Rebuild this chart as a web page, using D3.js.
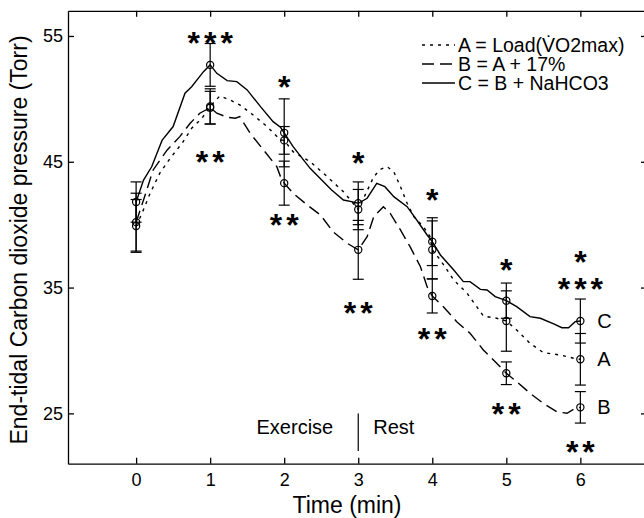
<!DOCTYPE html>
<html>
<head>
<meta charset="utf-8">
<script src="https://cdn.jsdelivr.net/npm/d3@7"></script>
<style>
  body { margin: 0; background: #fff; }
  svg { display: block; font-family: "Liberation Sans", Arial, sans-serif; }
</style>
</head>
<body>
<div id="chart"></div>
<script>
// traces (time in min, PETCO2 in Torr)
const timeC = [0, 0.10, 0.21, 0.35, 0.50, 0.66, 0.75, 0.91, 1, 1.09, 1.23, 1.36, 1.50, 1.68, 1.85, 1.95, 2,
  2.12, 2.35, 2.64, 2.80, 2.91, 3, 3.12, 3.25, 3.36, 3.48, 3.66, 3.79, 3.93, 4,
  4.11, 4.29, 4.42, 4.51, 4.65, 4.74, 4.85, 5, 5.14, 5.32, 5.46, 5.64, 5.75, 5.84, 5.93, 6];
const curveC = [41.8, 43.55, 44.6, 46.7, 47.8, 50.45, 50.97, 52.16, 52.7, 52.03, 51.45, 51.37, 50.71, 49.38, 48.19, 47.74, 47.3,
  46.2, 44.48, 42.76, 41.96, 41.83, 41.7, 42.1, 43.29, 43.02, 42.23, 41.43, 40.37, 39.18, 38.65,
  37.59, 36.4, 35.47, 35.47, 34.86, 34.81, 34.28, 33.96, 33.48, 32.69, 32.56, 32.11, 31.81, 31.81, 32.29, 32.34];

const timeA = [0, 0.08, 0.19, 0.32, 0.46, 0.62, 0.75, 0.89, 1, 1.13, 1.27, 1.40, 1.58, 1.77, 1.95, 2,
  2.12, 2.35, 2.58, 2.80, 3, 3.21, 3.30, 3.39, 3.48, 3.57, 3.66, 3.75, 3.88, 3.97, 4,
  4.11, 4.29, 4.47, 4.69, 4.87, 5, 5.14, 5.32, 5.50, 5.73, 5.91, 6];
const curveA = [39.9, 40.91, 42.5, 44.09, 45.28, 46.47, 47.66, 48.46, 49.4, 50.23, 49.91, 49.52, 48.72, 47.79, 46.73, 46.7,
  45.8, 45.01, 43.82, 42.62, 41.2, 43.82, 44.4, 44.61, 44.21, 43.02, 41.7, 40.64, 39.84, 39.05, 38.0,
  37.19, 35.6, 34.55, 32.74, 32.56, 32.34, 31.63, 30.57, 29.83, 29.64, 29.38, 29.3];

const timeB = [0, 0.10, 0.23, 0.42, 0.59, 0.73, 0.86, 1, 1.09, 1.23, 1.34, 1.40, 1.54, 1.72, 1.90, 1.95, 2,
  2.12, 2.31, 2.49, 2.66, 2.85, 3, 3.12, 3.21, 3.34, 3.43, 3.57, 3.70, 3.84, 3.93, 4,
  4.15, 4.33, 4.51, 4.69, 4.87, 5, 5.14, 5.32, 5.50, 5.68, 5.82, 5.91, 6];
const curveB = [40.2, 41.96, 44.35, 45.94, 47.0, 48.06, 48.86, 49.3, 48.86, 48.54, 48.46, 48.59, 47.27, 45.94, 44.61, 43.82, 43.3,
  42.5, 41.57, 40.77, 39.44, 38.52, 38.0, 39.05, 40.64, 41.43, 40.91, 39.58, 38.25, 36.66, 35.07, 34.33,
  33.48, 32.29, 31.37, 30.04, 28.98, 28.19, 27.52, 26.6, 25.8, 25.13, 25.01, 25.33, 25.48];

// means and SE at each whole minute
const markerTimes = [0, 1, 2, 3, 4, 5, 6];
const meanA = [39.9, 49.4, 46.7, 41.2, 38.0, 32.34, 29.3];
const errA = [2.1, 1.4, 1.1, 1.6, 2.3, 2.4, 2.05];
const meanB = [40.2, 49.3, 43.3, 38.0, 34.33, 28.19, 25.48];
const errB = [2.3, 1.3, 1.75, 2.34, 1.35, 0.9, 1.25];
const meanC = [41.8, 52.7, 47.3, 41.7, 38.65, 33.96, 32.34];
const errC = [1.6, 1.7, 2.7, 1.7, 1.9, 1.4, 1.75];

// significance marks
const starTimes = [1, 1, 2, 2, 3, 3, 4, 4, 5, 5, 6, 6, 6];
const starValues = [55.0, 45.5, 51.5, 40.5, 45.45, 33.55, 42.5, 31.45, 36.95, 25.5, 37.6, 35.45, 22.5];
const starLabels = ['***', '**', '*', '**', '*', '**', '*', '**', '*', '**', '*', '***', '**'];

const xTicks = [0, 1, 2, 3, 4, 5, 6];
const yTicks = [25, 35, 45, 55];
const legendLabels = ['A = Load(V\u0307O2max)', 'B = A + 17%', 'C = B + NaHCO3'];
const endLabels = ['C', 'A', 'B'];

const width = 644, height = 518;
const svg = d3.select('#chart').append('svg').attr('width', width).attr('height', height);

const x = d3.scaleLinear().domain([-0.92, 6.9]).range([68, 647]);
const y = d3.scaleLinear().domain([21, 57]).range([463.7, 10.8]);

// axes, ticks pointing in
const styleAxis = g => {
  g.selectAll('path, line').attr('stroke', '#000').attr('stroke-width', 1.3);
  g.selectAll('text').attr('fill', '#000').style('font-size', '18px').style('font-family', '"Liberation Sans", Arial, sans-serif');
};
svg.append('g').attr('transform', `translate(0,${y.range()[0]})`)
  .call(d3.axisBottom(x).tickValues(xTicks).tickSize(-6).tickSizeOuter(0).tickPadding(10).tickFormat(d3.format('d')))
  .call(styleAxis);
svg.append('g').attr('transform', `translate(0,${y.range()[1]})`)
  .call(d3.axisTop(x).tickValues(xTicks).tickSize(-6).tickSizeOuter(0).tickFormat(''))
  .call(styleAxis);
svg.append('g').attr('transform', `translate(${x.range()[0]},0)`)
  .call(d3.axisLeft(y).tickValues(yTicks).tickSize(-6).tickSizeOuter(0).tickPadding(5))
  .call(styleAxis);
svg.append('g').attr('transform', `translate(${x.range()[1]},0)`)
  .call(d3.axisRight(y).tickValues(yTicks).tickSize(-6).tickSizeOuter(0).tickFormat(''))
  .call(styleAxis);

// axis titles
svg.append('text').attr('x', 347).attr('y', 513).attr('text-anchor', 'middle')
  .style('font-size', '23px').text('Time (min)');
svg.append('text').attr('transform', 'translate(27,240) rotate(-90)').attr('text-anchor', 'middle')
  .style('font-size', '23px').text('End-tidal Carbon dioxide pressure (Torr)');

// traces
const dashes = { A: '3,5', B: '12,6', C: null };
const series = [
  { key: 'A', t: timeA, v: curveA, mean: meanA, err: errA },
  { key: 'B', t: timeB, v: curveB, mean: meanB, err: errB },
  { key: 'C', t: timeC, v: curveC, mean: meanC, err: errC }
];
const line = d3.line().x(d => x(d[0])).y(d => y(d[1]));

series.forEach(s => {
  const pts = s.t.map((t, i) => [t, s.v[i]]);
  svg.append('path').datum(pts).attr('d', line)
    .attr('fill', 'none').attr('stroke', '#000').attr('stroke-width', 1.4)
    .attr('stroke-dasharray', dashes[s.key]);

  const bars = markerTimes.map((t, i) => ({ t: t, m: s.mean[i], e: s.err[i] }));
  const g = svg.append('g').attr('stroke', '#000').attr('stroke-width', 1.2);
  g.selectAll('.v').data(bars).enter().append('line')
    .attr('x1', d => x(d.t)).attr('x2', d => x(d.t))
    .attr('y1', d => y(d.m + d.e)).attr('y2', d => y(d.m - d.e));
  g.selectAll('.top').data(bars).enter().append('line')
    .attr('x1', d => x(d.t) - 5.5).attr('x2', d => x(d.t) + 5.5)
    .attr('y1', d => y(d.m + d.e)).attr('y2', d => y(d.m + d.e));
  g.selectAll('.bot').data(bars).enter().append('line')
    .attr('x1', d => x(d.t) - 5.5).attr('x2', d => x(d.t) + 5.5)
    .attr('y1', d => y(d.m - d.e)).attr('y2', d => y(d.m - d.e));
  g.selectAll('circle').data(bars).enter().append('circle')
    .attr('cx', d => x(d.t)).attr('cy', d => y(d.m)).attr('r', 3.6)
    .attr('fill', 'none');
});

// stars
svg.selectAll('.star').data(starTimes).enter().append('text')
  .attr('x', (d, i) => x(d) + 2)
  .attr('y', (d, i) => y(starValues[i]) + 18)
  .attr('text-anchor', 'middle')
  .style('font-size', '32px').style('font-weight', 'bold').style('letter-spacing', '4px')
  .text((d, i) => starLabels[i]);

// end labels
const endVals = [meanC[6], meanA[6], meanB[6]];
svg.selectAll('.endlab').data(endLabels).enter().append('text')
  .attr('x', x(6) + 17).attr('y', (d, i) => y(endVals[i]) + 7)
  .style('font-size', '20px').text(d => d);

// exercise / rest
svg.append('line').attr('x1', x(3)).attr('x2', x(3)).attr('y1', y(25)).attr('y2', y(22))
  .attr('stroke', '#000').attr('stroke-width', 1.2);
svg.append('text').attr('x', x(3) - 25).attr('y', y(23.35)).attr('text-anchor', 'end')
  .style('font-size', '20px').text('Exercise');
svg.append('text').attr('x', x(3) + 15).attr('y', y(23.35))
  .style('font-size', '20px').text('Rest');

// legend
const legend = svg.append('g');
const legendDash = ['3,5', '12,6', null];
legendLabels.forEach((lab, i) => {
  const yy = 52 + i * 19;
  legend.append('line').attr('x1', 422).attr('x2', 455).attr('y1', yy - 7).attr('y2', yy - 7)
    .attr('stroke', '#000').attr('stroke-width', 1.4).attr('stroke-dasharray', legendDash[i]);
  legend.append('text').attr('x', 458).attr('y', yy).style('font-size', '19.5px').text(lab);
});
</script>
</body>
</html>
